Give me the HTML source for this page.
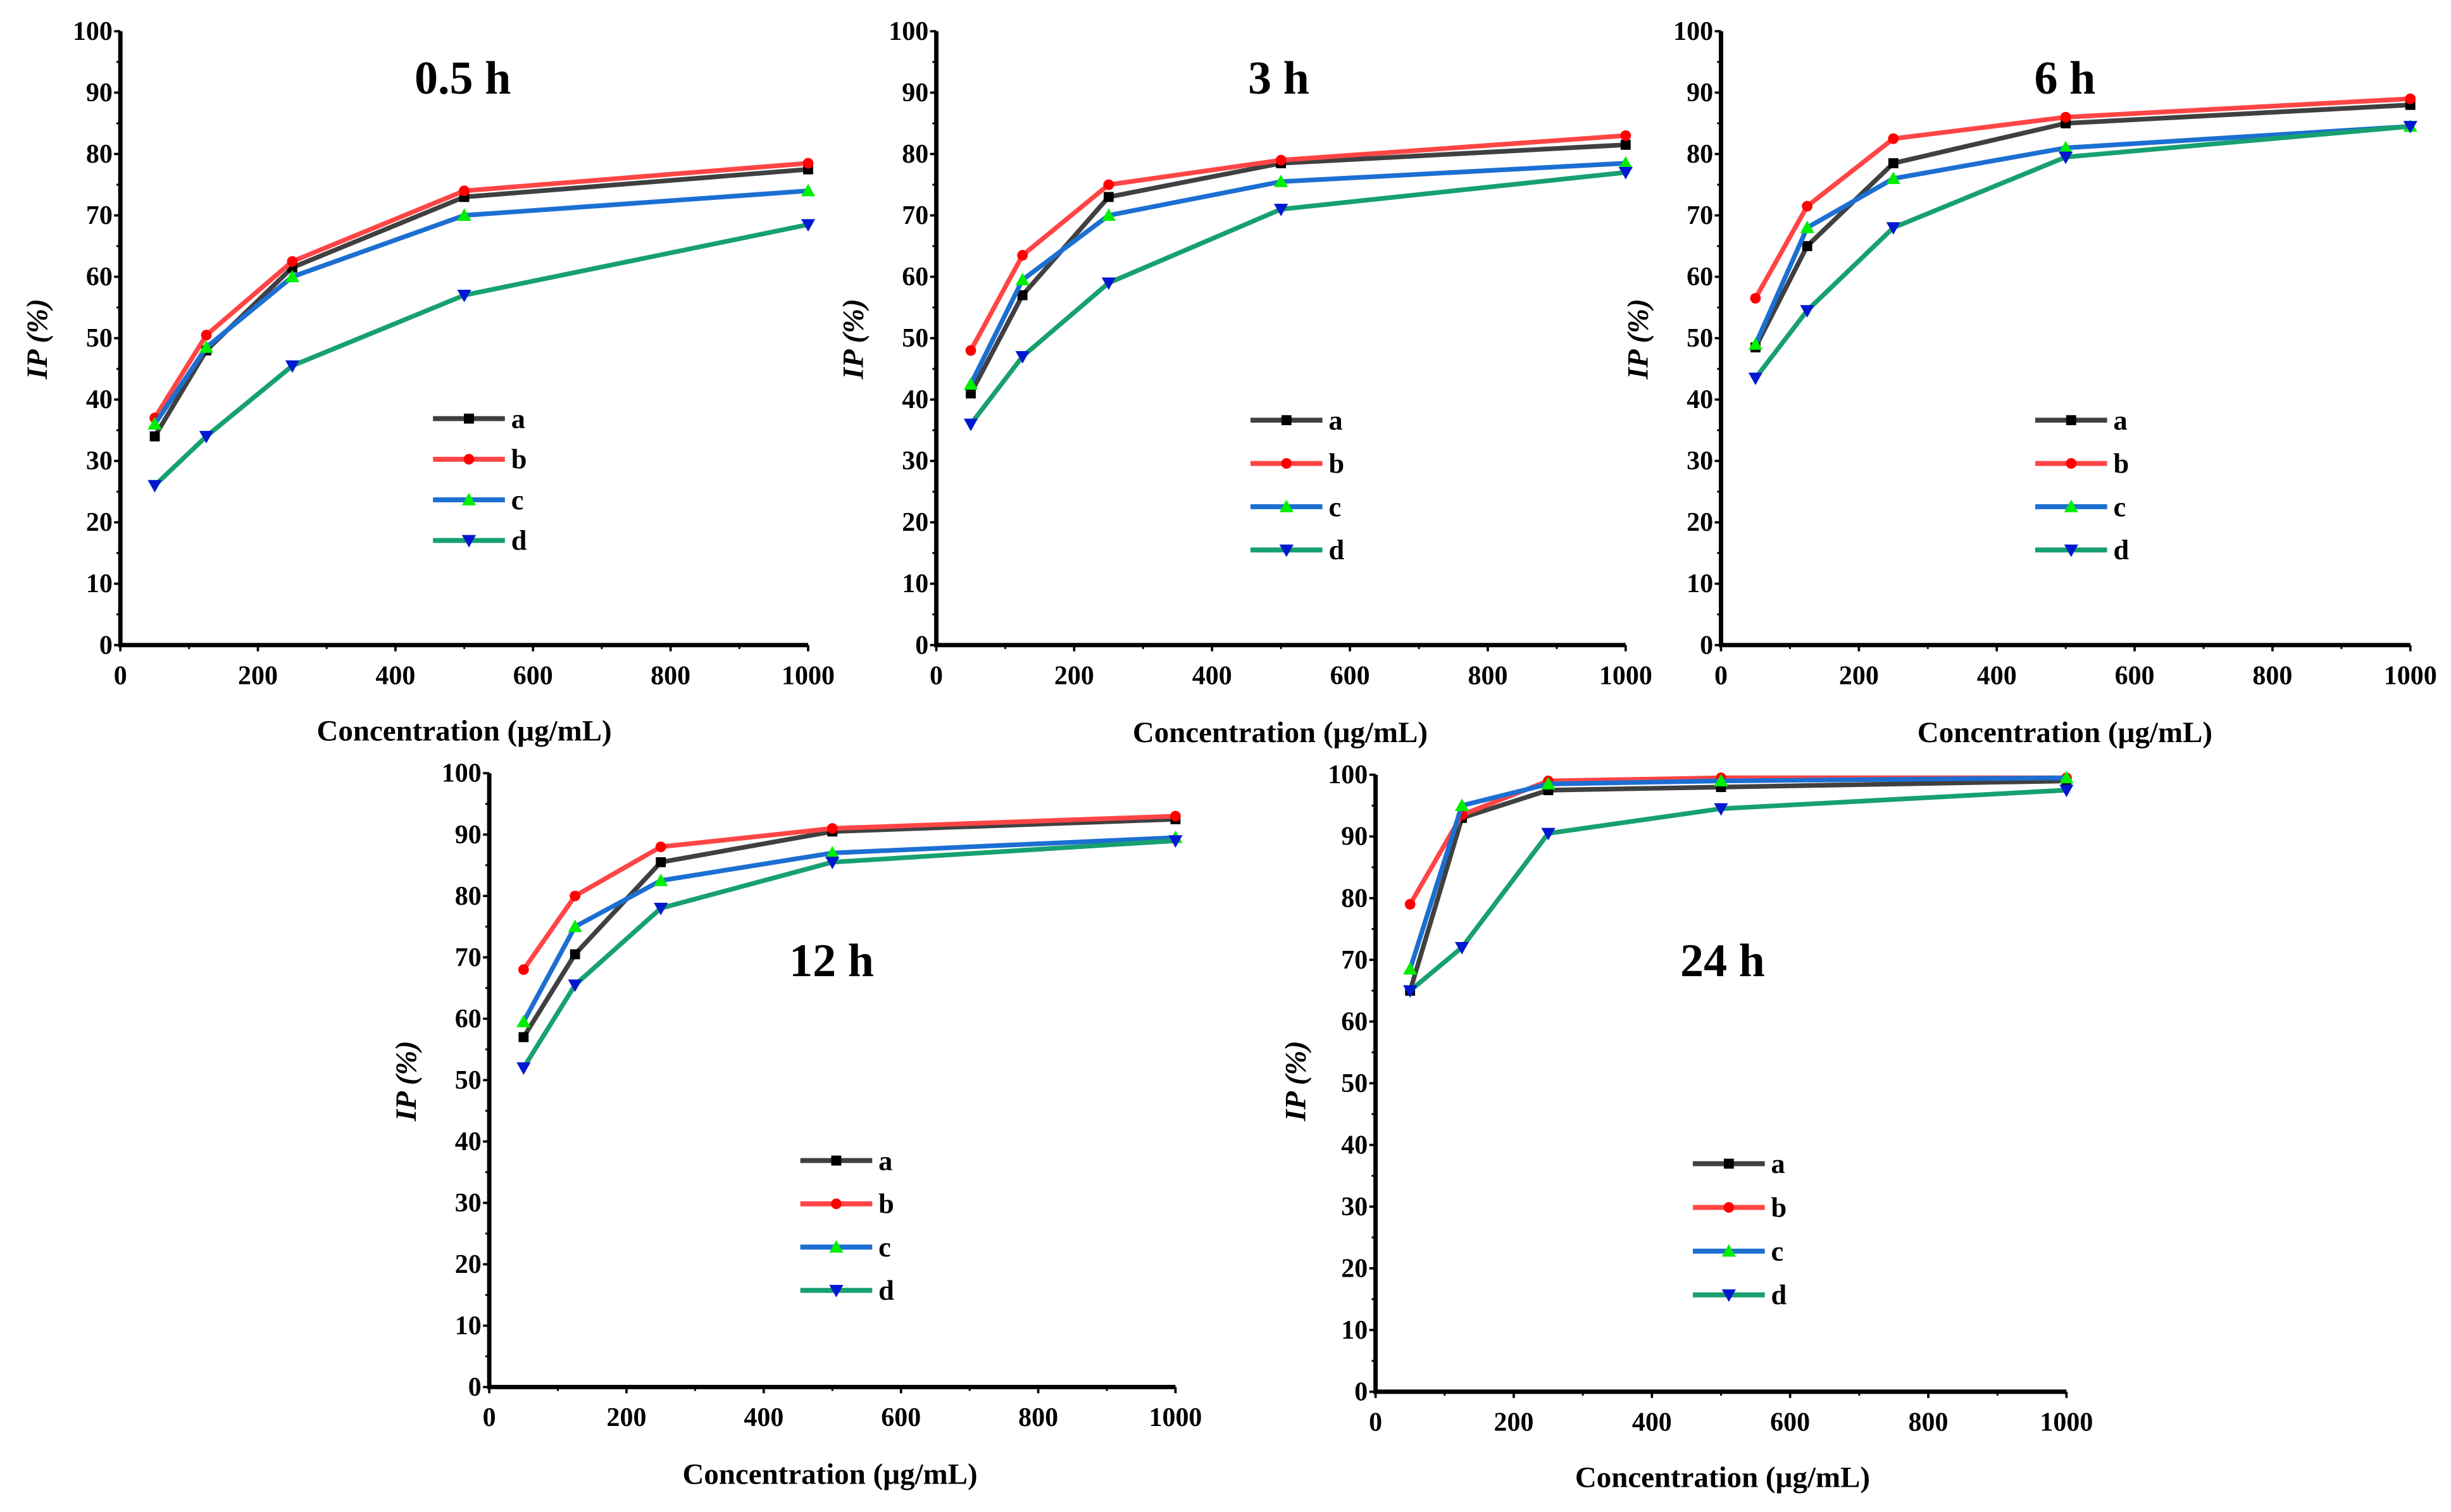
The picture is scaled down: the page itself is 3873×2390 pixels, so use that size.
<!DOCTYPE html>
<html><head><meta charset="utf-8"><style>
html,body{margin:0;padding:0;background:#fff}
svg{display:block}
svg text{font-family:"Liberation Serif",serif !important;font-weight:bold;fill:#000}
</style></head><body>
<svg id="fig" width="3873" height="2390" viewBox="0 0 1568 968" preserveAspectRatio="none" xmlns="http://www.w3.org/2000/svg" font-family="Liberation Serif, serif"></svg>
<script>
const concentrations = [50, 125, 250, 500, 1000];
const seriesNames = ["a", "b", "c", "d"];
const xTicks = [0, 200, 400, 600, 800, 1000];
const yTicks = [0, 10, 20, 30, 40, 50, 60, 70, 80, 90, 100];
const panelTitles = ["0.5 h", "3 h", "6 h", "12 h", "24 h"];
const p05_a = [34, 48, 61.5, 73, 77.5];
const p05_b = [37, 50.5, 62.5, 74, 78.5];
const p05_c = [36, 48.5, 60, 70, 74];
const p05_d = [26, 34, 45.5, 57, 68.5];
const p3_a = [41, 57, 73, 78.5, 81.5];
const p3_b = [48, 63.5, 75, 79, 83];
const p3_c = [42.5, 59.5, 70, 75.5, 78.5];
const p3_d = [36, 47, 59, 71, 77];
const p6_a = [48.5, 65, 78.5, 85, 88];
const p6_b = [56.5, 71.5, 82.5, 86, 89];
const p6_c = [49, 68, 76, 81, 84.5];
const p6_d = [43.5, 54.5, 68, 79.5, 84.5];
const p12_a = [57, 70.5, 85.5, 90.5, 92.5];
const p12_b = [68, 80, 88, 91, 93];
const p12_c = [59.5, 75, 82.5, 87, 89.5];
const p12_d = [52, 65.5, 78, 85.5, 89];
const p24_a = [65, 93, 97.5, 98, 99];
const p24_b = [79, 93.5, 99, 99.5, 99.5];
const p24_c = [68.5, 95, 98.5, 99, 99.5];
const p24_d = [65, 72, 90.5, 94.5, 97.5];

const panelData = [[p05_a,p05_b,p05_c,p05_d],[p3_a,p3_b,p3_c,p3_d],[p6_a,p6_b,p6_c,p6_d],[p12_a,p12_b,p12_c,p12_d],[p24_a,p24_b,p24_c,p24_d]];
const layout = [
 {x0:77,x1:517,y0:413,y1:20,title:[296,60],xl:[297,474],yl:[24,217],lg:[277,268,26]},
 {x0:599,x1:1040,y0:413,y1:20,title:[818,60],xl:[819,475],yl:[546,217],lg:[800,269,27.7]},
 {x0:1101,x1:1542,y0:413,y1:20,title:[1321,60],xl:[1321,475],yl:[1048,217],lg:[1302,269,27.7]},
 {x0:313,x1:752,y0:888,y1:495,title:[532,625],xl:[531,950],yl:[260,692],lg:[512,743,27.7]},
 {x0:880,x1:1322,y0:891,y1:496,title:[1102,625],xl:[1102,952],yl:[829,692],lg:[1083,745,28]}
];
const lineColors = ["#404040","#ff4545","#1c6fd2","#17a070"];
const markColors = ["#000","#ff0000","#00ee00","#0018d0"];
const NS = "http://www.w3.org/2000/svg";
const svg = document.getElementById("fig");
const FF = "Liberation Serif, serif";
function el(tag, attrs, parent){const e=document.createElementNS(NS,tag);for(const k in attrs)e.setAttribute(k,attrs[k]);if(tag==="text"){e.setAttribute("font-family",FF);e.setAttribute("font-weight","bold");}(parent||svg).appendChild(e);return e;}
function marker(g,i,x,y){
  const c=markColors[i];let m;
  if(i===0) m=el("rect",{x:x-3.2,y:y-3.2,width:6.4,height:6.4,fill:c},g);
  else if(i===1) m=el("circle",{cx:x,cy:y,r:3.4,fill:c},g);
  else if(i===2) m=el("polygon",{points:`${x},${y-4.5} ${x-4.5},${y+3.5} ${x+4.5},${y+3.5}`,fill:c},g);
  else m=el("polygon",{points:`${x},${y+4.5} ${x-4.5},${y-3.5} ${x+4.5},${y-3.5}`,fill:c},g);
  
  
}
layout.forEach((L,p)=>{
  const g=el("g",{});
  
  
  const sx=v=>L.x0+(L.x1-L.x0)*v/1000;
  const sy=v=>L.y0+(L.y1-L.y0)*v/100;
  const ax=el("path",{d:`M${L.x0},${L.y1} V${L.y0} H${L.x1}`,stroke:"#000","stroke-width":2.8,fill:"none"},g);
  
  
  yTicks.forEach(t=>{
    el("line",{x1:L.x0-4,x2:L.x0,y1:sy(t),y2:sy(t),stroke:"#000","stroke-width":1.5},g);
    if(t<100) el("line",{x1:L.x0-2.5,x2:L.x0,y1:sy(t+5),y2:sy(t+5),stroke:"#000","stroke-width":1.2},g);
    const tx=el("text",{x:L.x0-5,y:sy(t)+5.5,"font-size":17,"text-anchor":"end"},g);tx.textContent=t;
    
    
  });
  xTicks.forEach(t=>{
    el("line",{x1:sx(t),x2:sx(t),y1:L.y0,y2:L.y0+4,stroke:"#000","stroke-width":1.5},g);
    if(t<1000) el("line",{x1:sx(t+100),x2:sx(t+100),y1:L.y0,y2:L.y0+2.5,stroke:"#000","stroke-width":1.2},g);
    const tx=el("text",{x:sx(t),y:L.y0+25,"font-size":17,"text-anchor":"middle"},g);tx.textContent=t;
    
    
  });
  const tt=el("text",{x:L.title[0],y:L.title[1],"font-size":30,"text-anchor":"middle"},g);tt.textContent=panelTitles[p];
  
  
  const xl=el("text",{x:L.xl[0],y:L.xl[1],"font-size":19,"text-anchor":"middle"},g);xl.textContent="Concentration (µg/mL)";
  
  
  const yl=el("text",{x:0,y:0,"font-size":19,"text-anchor":"middle","font-style":"italic",transform:`translate(${L.yl[0]+6},${L.yl[1]}) rotate(-90)`},g);
  yl.textContent='IP (%)';
  
  
  panelData[p].forEach((vals,i)=>{
    const s=el("g",{},g);
    
    
    const pts=concentrations.map((c,k)=>sx(c)+","+sy(vals[k])).join(" ");
    el("polyline",{points:pts,fill:"none",stroke:lineColors[i],"stroke-width":3,"stroke-linejoin":"round"},s);
    concentrations.forEach((c,k)=>marker(s,i,sx(c),sy(vals[k])));
  });
  seriesNames.forEach((n,i)=>{
    const lg=el("g",{},g);
    
    
    const y=L.lg[1]+i*L.lg[2];
    el("line",{x1:L.lg[0],x2:L.lg[0]+46,y1:y,y2:y,stroke:lineColors[i],"stroke-width":3.2},lg);
    marker(lg,i,L.lg[0]+23,y);
    const t=el("text",{x:L.lg[0]+50,y:y+6,"font-size":18},lg);t.textContent=n;
  });
});
</script>
</body></html>
